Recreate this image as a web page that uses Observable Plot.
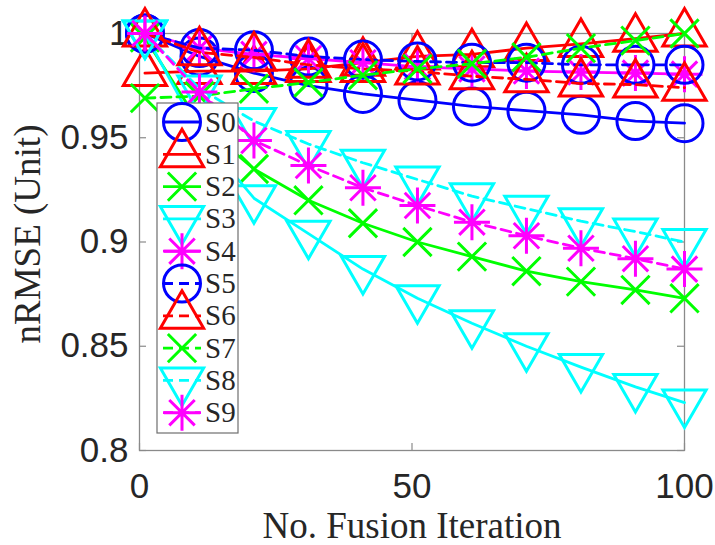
<!DOCTYPE html>
<html>
<head>
<meta charset="utf-8">
<script src="https://cdn.jsdelivr.net/npm/d3@7"></script>
<script src="https://cdn.jsdelivr.net/npm/@observablehq/plot@0.6"></script>
<style>
  html, body { margin: 0; padding: 0; background: #fff; }
  #chart { width: 715px; height: 545px; overflow: hidden; }
</style>
</head>
<body>
<div id="chart"></div>
<script>
// Fusion iterations at which the error was evaluated
const iterations = [1, 11, 21, 31, 41, 51, 61, 71, 81, 91, 100];
const seriesNames = ["S0", "S1", "S2", "S3", "S4", "S5", "S6", "S7", "S8", "S9"];

// nRMSE per series
const s0 = [1.000, 0.989, 0.981, 0.975, 0.971, 0.968, 0.965, 0.963, 0.961, 0.958, 0.957];
const s1 = [0.981, 0.982, 0.982, 0.983, 0.986, 0.989, 0.990, 0.993, 0.995, 0.9975, 1.000];
const s2 = [0.998, 0.957, 0.935, 0.920, 0.909, 0.900, 0.893, 0.886, 0.881, 0.877, 0.873];
const s3 = [1.000, 0.952, 0.921, 0.904, 0.887, 0.873, 0.861, 0.850, 0.840, 0.8305, 0.823];
const s4 = [1.000, 0.993, 0.990, 0.988, 0.986, 0.984, 0.983, 0.982, 0.9815, 0.981, 0.9805];
const s5 = [1.000, 0.993, 0.992, 0.989, 0.9875, 0.9866, 0.986, 0.986, 0.985, 0.985, 0.985];
const s6 = [1.000, 0.991, 0.9885, 0.985, 0.983, 0.9818, 0.9795, 0.978, 0.976, 0.9755, 0.974];
const s7 = [0.969, 0.970, 0.9735, 0.9765, 0.980, 0.983, 0.9855, 0.9886, 0.993, 0.9966, 1.000];
const s8 = [1.000, 0.9736, 0.958, 0.947, 0.938, 0.930, 0.922, 0.916, 0.910, 0.905, 0.900];
const s9 = [1.000, 0.972, 0.9487, 0.9367, 0.926, 0.9175, 0.9095, 0.903, 0.897, 0.892, 0.887];
const seriesValues = [s0, s1, s2, s3, s4, s5, s6, s7, s8, s9];

const xTicks = [0, 50, 100];
const yTicks = [0.8, 0.85, 0.9, 0.95, 1];
const xLabel = "No. Fusion Iteration";
const yLabel = "nRMSE (Unit)";

// Marker shapes (stroked outlines; size = π r²)
const rOf = (size) => Math.sqrt(size / Math.PI);
const circleSym = {draw(ctx, size) { const r = rOf(size); ctx.moveTo(r, 0); ctx.arc(0, 0, r, 0, 2 * Math.PI); }};
const triUpSym = {draw(ctx, size) { const r = rOf(size), h = r * Math.sqrt(3) / 2;
  ctx.moveTo(0, -r); ctx.lineTo(h, r / 2); ctx.lineTo(-h, r / 2); ctx.closePath(); }};
const triDownSym = {draw(ctx, size) { const r = rOf(size), h = r * Math.sqrt(3) / 2;
  ctx.moveTo(0, r); ctx.lineTo(h, -r / 2); ctx.lineTo(-h, -r / 2); ctx.closePath(); }};
const crossSym = {draw(ctx, size) { const a = rOf(size) * Math.SQRT1_2;
  ctx.moveTo(-a, -a); ctx.lineTo(a, a); ctx.moveTo(-a, a); ctx.lineTo(a, -a); }};
const starSym = {draw(ctx, size) { const r = rOf(size), a = r * Math.SQRT1_2;
  ctx.moveTo(-r, 0); ctx.lineTo(r, 0); ctx.moveTo(0, -r); ctx.lineTo(0, r);
  ctx.moveTo(-a, -a); ctx.lineTo(a, a); ctx.moveTo(-a, a); ctx.lineTo(a, -a); }};

// Style cycle: colour & marker repeat every five series, second half dashed
const cycleColors = ["#0000ff", "#ff0000", "#00ff00", "#00ffff", "#ff00ff"];
const cycleSymbols = [circleSym, triUpSym, crossSym, triDownSym, starSym];
const cycleRadius = [18.5, 25, 20, 25, 18];
const styleOf = (i) => ({
  color: cycleColors[i % 5],
  symbol: cycleSymbols[i % 5],
  r: cycleRadius[i % 5],
  dash: i < 5 ? null : "10,6"
});

const axisGray = "#8a8a8a";
const textColor = "#262626";
const sansFont = "'Liberation Sans', Arial, Helvetica, sans-serif";
const serifFont = "'Liberation Serif', 'Times New Roman', serif";

const seriesMarks = seriesNames.flatMap((name, i) => {
  const rows = iterations.map((it, j) => ({iteration: it, value: seriesValues[i][j]}));
  const st = styleOf(i);
  return [
    Plot.line(rows, {x: "iteration", y: "value", stroke: st.color, strokeWidth: 2.8,
      strokeDasharray: st.dash, strokeLinejoin: "round"}),
    Plot.dot(rows, {x: "iteration", y: "value", symbol: st.symbol, r: st.r,
      fill: "none", stroke: st.color, strokeWidth: 3, strokeLinejoin: "miter"})
  ];
});

const plotW = 715 - 139 - 31;
const plotH = 545 - 33 - 95;

const svg = Plot.plot({
  width: 715,
  height: 545,
  marginLeft: 139,
  marginRight: 31,
  marginTop: 33,
  marginBottom: 95,
  x: {domain: [0, 100]},
  y: {domain: [0.8, 1]},
  style: {background: "#fff", fontFamily: sansFont, overflow: "visible"},
  marks: [
    Plot.frame({stroke: axisGray, strokeWidth: 1.3}),
    // inward ticks on all four sides
    Plot.tickY(yTicks, {y: d => d, stroke: axisGray, strokeWidth: 1.2, insetRight: plotW - 7}),
    Plot.tickY(yTicks, {y: d => d, stroke: axisGray, strokeWidth: 1.2, insetLeft: plotW - 7}),
    Plot.tickX(xTicks, {x: d => d, stroke: axisGray, strokeWidth: 1.2, insetTop: plotH - 7}),
    Plot.tickX(xTicks, {x: d => d, stroke: axisGray, strokeWidth: 1.2, insetBottom: plotH - 7}),
    Plot.axisX(xTicks, {tickSize: 0, tickPadding: 23, fontSize: 35, fill: textColor, label: null}),
    Plot.axisY(yTicks, {tickSize: 0, tickPadding: 11, fontSize: 35, fill: textColor, label: null,
      tickFormat: d => String(+d.toFixed(2))}),
    Plot.text([yLabel], {text: d => d, frameAnchor: "left", textAnchor: "middle", lineAnchor: "middle",
      rotate: -90, dx: -111, dy: -8, fontSize: 37, fontFamily: serifFont, fill: textColor}),
    Plot.text([xLabel], {text: d => d, frameAnchor: "bottom", textAnchor: "middle", lineAnchor: "middle",
      dy: 76, fontSize: 37, fontFamily: serifFont, fill: textColor}),
    ...seriesMarks
  ]
});

document.getElementById("chart").appendChild(svg);

// Legend box in the upper-left of the axes
const legend = d3.select(svg).append("g")
  .style("font-family", serifFont).style("font-size", "29px");
legend.append("rect")
  .attr("x", 157).attr("y", 103).attr("width", 81).attr("height", 330)
  .attr("fill", "#fff").attr("stroke", "#6e6e6e").attr("stroke-width", 1.2);
seriesNames.forEach((name, i) => {
  const st = styleOf(i);
  const cy = 122 + i * 32.3;
  const row = legend.append("g");
  row.append("line")
    .attr("x1", 163).attr("x2", 201).attr("y1", cy).attr("y2", cy)
    .attr("stroke", st.color).attr("stroke-width", 2.8)
    .attr("stroke-dasharray", st.dash);
  row.append("path")
    .attr("transform", `translate(182,${cy})`)
    .attr("d", d3.symbol(st.symbol, Math.PI * st.r * st.r)())
    .attr("fill", "none").attr("stroke", st.color).attr("stroke-width", 3)
    .attr("stroke-linejoin", "miter");
  row.append("text")
    .attr("x", 205).attr("y", cy).attr("dy", "0.33em")
    .style("text-anchor", "start")
    .style("font-family", serifFont).style("font-size", "29px")
    .attr("fill", textColor)
    .text(name);
});
</script>
</body>
</html>
